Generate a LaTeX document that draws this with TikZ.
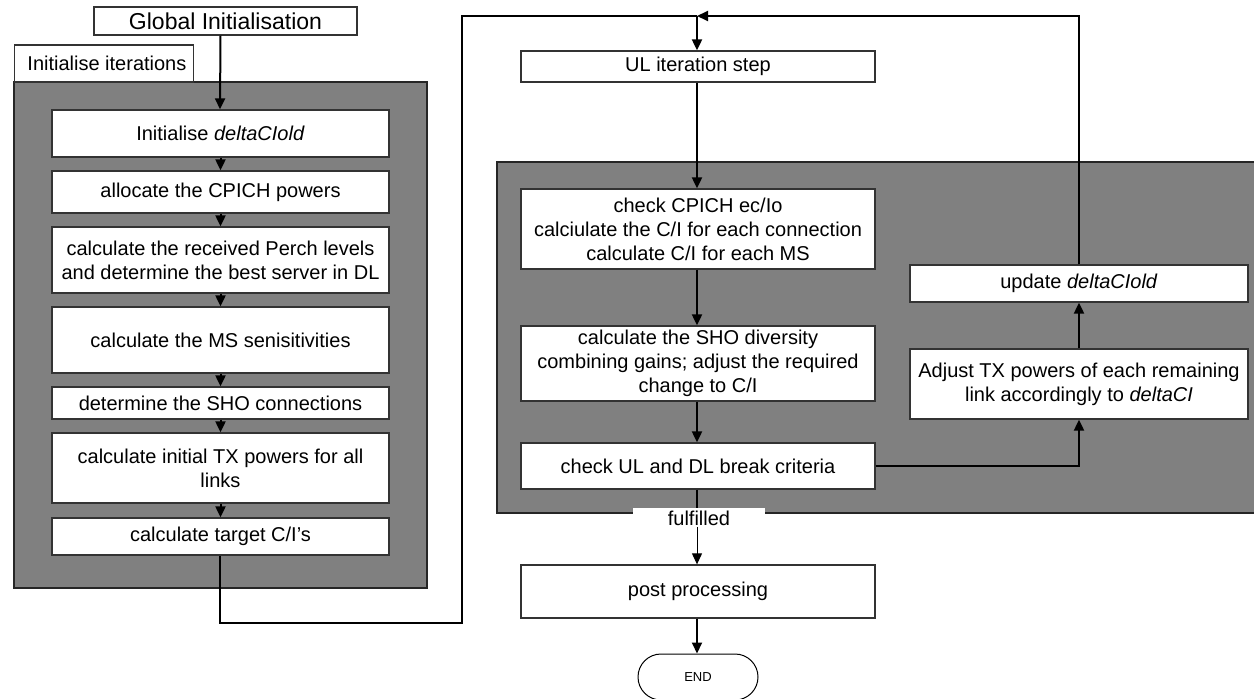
\documentclass[tikz,border=0pt]{standalone}
\usepackage{fontspec}
\setmainfont{Liberation Sans}
\usetikzlibrary{arrows.meta}
\begin{document}
\begin{tikzpicture}[x=1pt,y=-1pt,
  box/.style={draw=black!80,line width=1.3pt,fill=white,inner sep=0pt,align=center,
              font=\fontsize{20}{24}\selectfont},
  panel/.style={draw=black!85,line width=1.3pt,fill=black!50},
  flow/.style={line width=2pt,-{Triangle[length=11pt,width=10pt]}},
  thinflow/.style={line width=1pt,-{Triangle[length=11pt,width=10pt]}},
  link/.style={line width=2pt},
]
\useasboundingbox (0,0) rectangle (1254,699);
\clip (0,0) rectangle (1254,699);

% grey groups
\draw[panel] (14,82) rectangle (427,588);
\draw[panel] (497,162) rectangle (1270,513);

% headings
\node[box,font=\fontsize{23}{27}\selectfont,minimum width=263pt,minimum height=28pt] (glob) at (225.5,21) {Global Initialisation};
\node[box,minimum width=179pt,minimum height=37pt,anchor=west] (tab) at (14,63.5) {\ Initialise iterations};

% initialisation steps
\node[box,minimum width=337pt,minimum height=47pt] (b1) at (220.5,133.5) {Initialise \textit{deltaCIold}};
\node[box,minimum width=337pt,minimum height=42pt] (b2) at (220.5,192) {allocate the CPICH powers};
\node[box,minimum width=337pt,minimum height=66pt] (b3) at (220.5,260) {calculate the received Perch levels\\and determine the best server in DL};
\node[box,minimum width=337pt,minimum height=66pt] (b4) at (220.5,340) {calculate the MS senisitivities};
\node[box,minimum width=337pt,minimum height=32pt] (b5) at (220.5,403) {determine the SHO connections};
\node[box,minimum width=337pt,minimum height=70pt] (b6) at (220.5,468) {calculate initial TX powers for all\\links};
\node[box,minimum width=337pt,minimum height=37pt] (b7) at (220.5,536.5) {calculate target C/I’s};

% iteration steps
\node[box,minimum width=354pt,minimum height=31pt] (ul) at (698,66.5) {UL iteration step};
\node[box,minimum width=354pt,minimum height=80pt] (r1) at (698,229) {check CPICH ec/Io\\calciulate the C/I for each connection\\calculate C/I for each MS};
\node[box,minimum width=354pt,minimum height=75pt] (r2) at (698,363.5) {calculate the SHO diversity\\combining gains; adjust the required\\change to C/I};
\node[box,minimum width=354pt,minimum height=46pt] (r3) at (698,466) {check UL and DL break criteria};
\node[box,minimum width=338pt,minimum height=37pt] (upd) at (1079,283.5) {update \textit{deltaCIold}};
\node[box,minimum width=338pt,minimum height=70pt] (adj) at (1079,384) {Adjust TX powers of each remaining\\link accordingly to \textit{deltaCI}};
\node[box,minimum width=354pt,minimum height=53pt] (post) at (698,591.5) {post processing};
\node[box,draw=black,line width=1pt,rounded corners=23pt,minimum width=120pt,minimum height=46pt,
      font=\fontsize{13}{15}\selectfont] (end) at (698,677) {END};

% "fulfilled" exit label
\node[fill=white,inner sep=0pt,minimum width=132pt,minimum height=20pt,
      font=\fontsize{20}{24}\selectfont] (ful) at (699,518) {fulfilled};

% junction points
\coordinate (j) at (697,16);
\coordinate (dl) at (220,623);
\coordinate (dr) at (462,623);

% connectors
\draw[flow] (b1.north |- glob.south) -- (b1.north -| 220,0);
\draw[flow] (b1) -- (b2);
\draw[flow] (b2) -- (b3);
\draw[flow] (b3) -- (b4);
\draw[flow] (b4) -- (b5);
\draw[flow] (b5) -- (b6);
\draw[flow] (b6) -- (b7);
\draw[link] (b7.south -| dl) -- (dl) -- (dr) -- (dr |- j) -- (j);
\draw[flow] (j) -- (ul.north -| j);
\draw[flow] (ul.south -| j) -- (r1.north -| j);
\draw[flow] (r1.south -| j) -- (r2.north -| j);
\draw[flow] (r2.south -| j) -- (r3.north -| j);
\draw[link] (r3.south -| j) -- (ful.north -| j);
\draw[thinflow] (j |- 527,527) -- (post.north -| j);
\draw[flow] (post.south -| j) -- (end.north -| j);
\draw[flow] (r3.east) -| (adj.south);
\draw[flow] (adj) -- (upd);
\draw[flow] (upd.north) |- (j);
\end{tikzpicture}
\end{document}
